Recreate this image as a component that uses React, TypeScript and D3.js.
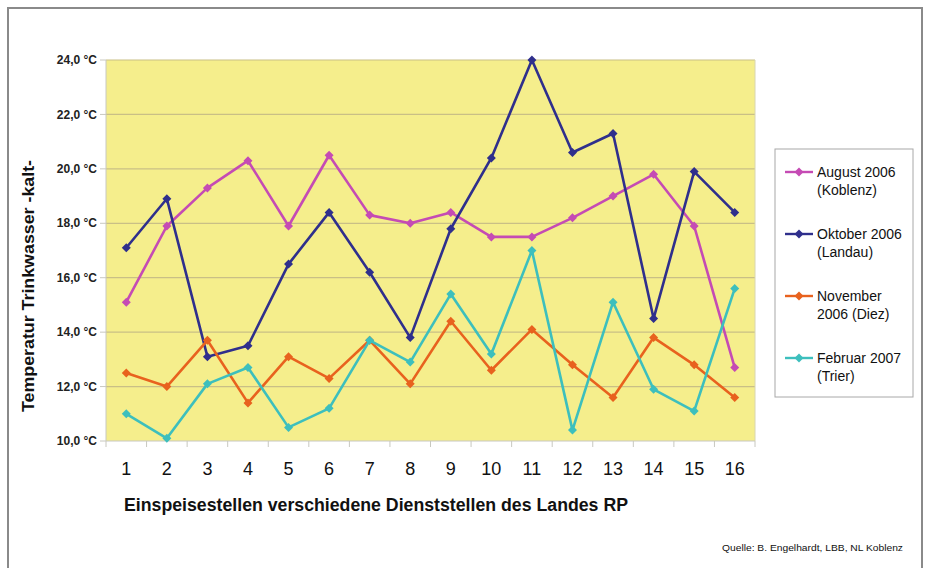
import React from 'react';
import * as d3 from 'd3';

const width = 925;
const height = 568;
const margin = { top: 60, right: 170, bottom: 127, left: 106 };

const stations = ['1', '2', '3', '4', '5', '6', '7', '8', '9', '10', '11', '12', '13', '14', '15', '16'];
const august2006 = [15.1, 17.9, 19.3, 20.3, 17.9, 20.5, 18.3, 18.0, 18.4, 17.5, 17.5, 18.2, 19.0, 19.8, 17.9, 12.7];
const oktober2006 = [17.1, 18.9, 13.1, 13.5, 16.5, 18.4, 16.2, 13.8, 17.8, 20.4, 24.0, 20.6, 21.3, 14.5, 19.9, 18.4];
const november2006 = [12.5, 12.0, 13.7, 11.4, 13.1, 12.3, 13.7, 12.1, 14.4, 12.6, 14.1, 12.8, 11.6, 13.8, 12.8, 11.6];
const februar2007 = [11.0, 10.1, 12.1, 12.7, 10.5, 11.2, 13.7, 12.9, 15.4, 13.2, 17.0, 10.4, 15.1, 11.9, 11.1, 15.6];
const yTicks = [10, 12, 14, 16, 18, 20, 22, 24];

const series = [
    { name: ['August 2006', '(Koblenz)'], values: august2006, color: '#c54bb4' },
    { name: ['Oktober 2006', '(Landau)'], values: oktober2006, color: '#2f2f8c' },
    { name: ['November', '2006 (Diez)'], values: november2006, color: '#e8621e' },
    { name: ['Februar 2007', '(Trier)'], values: februar2007, color: '#3dbfbd' },
];

const font = 'Liberation Sans, Arial, sans-serif';

const Diamond = ({ x, y, color }) => (
    <path d={`M${x},${y - 4.5}L${x + 4.5},${y}L${x},${y + 4.5}L${x - 4.5},${y}Z`} fill={color} />
);

const App = () => {
    const innerWidth = width - margin.left - margin.right;
    const innerHeight = height - margin.top - margin.bottom;

    const xScale = d3.scaleBand().domain(stations).range([0, innerWidth]);
    const yScale = d3.scaleLinear().domain([10, 24]).range([innerHeight, 0]);
    const cx = (s) => xScale(s) + xScale.bandwidth() / 2;

    const line = d3.line()
        .x((d, i) => cx(stations[i]))
        .y((d) => yScale(d));

    return (
        <svg width={width} height={height} style={{ position: 'absolute', left: 0, top: 0, fontFamily: font }}>
            <rect x={0} y={0} width={width} height={height} fill="#fff" />
            {/* outer frame */}
            <path d={`M8,${height}V8H922V${height}`} fill="none" stroke="#8a8a8a" strokeWidth={2} />

            <g transform={`translate(${margin.left},${margin.top})`}>
                <rect x={0} y={0} width={innerWidth} height={innerHeight} fill="#f5ee8c" />
                {yTicks.slice(1).map(t => (
                    <line key={t} x1={0} x2={innerWidth} y1={yScale(t)} y2={yScale(t)} stroke="#c9bf86" strokeWidth={1.2} />
                ))}
                <line x1={0} x2={0} y1={0} y2={innerHeight} stroke="#c8c8c0" />
                <line x1={innerWidth} x2={innerWidth} y1={0} y2={innerHeight} stroke="#d8d6b0" />
                <line x1={0} x2={innerWidth} y1={innerHeight} y2={innerHeight} stroke="#c8c8c0" />
                {yTicks.map(t => (
                    <g key={t} transform={`translate(0,${yScale(t)})`}>
                        <line x1={-6} x2={0} stroke="#c8c8c0" />
                        <text x={-9} dy=".35em" textAnchor="end" fontSize={12} fontWeight="bold" fill="#222">
                            {d3.format('.1f')(t).replace('.', ',')} °C
                        </text>
                    </g>
                ))}
                {stations.map(s => (
                    <line key={s} x1={xScale(s)} x2={xScale(s)} y1={innerHeight} y2={innerHeight + 6} stroke="#c8c8c0" />
                ))}
                <line x1={innerWidth} x2={innerWidth} y1={innerHeight} y2={innerHeight + 6} stroke="#c8c8c0" />
                {stations.map(s => (
                    <text key={s} x={cx(s)} y={innerHeight + 34} textAnchor="middle" fontSize={18} fill="#111">{s}</text>
                ))}

                {series.map(sr => (
                    <g key={sr.name[0]}>
                        <path d={line(sr.values)} fill="none" stroke={sr.color} strokeWidth={2.6} strokeLinejoin="round" />
                        {sr.values.map((v, i) => (
                            <Diamond key={i} x={cx(stations[i])} y={yScale(v)} color={sr.color} />
                        ))}
                    </g>
                ))}
            </g>

            <text transform={`translate(34,286) rotate(-90)`} textAnchor="middle" fontSize={17} fontWeight="bold" fill="#111"
                textLength={252} lengthAdjust="spacingAndGlyphs">
                Temperatur Trinkwasser -kalt-
            </text>
            <text x={124} y={511} fontSize={18} fontWeight="bold" fill="#111" textLength={504} lengthAdjust="spacingAndGlyphs">
                Einspeisestellen verschiedene Dienststellen des Landes RP
            </text>
            <text x={722} y={551} fontSize={9} fill="#111" textLength={181} lengthAdjust="spacingAndGlyphs">
                Quelle: B. Engelhardt, LBB, NL Koblenz
            </text>

            {/* legend */}
            <rect x={775} y={149} width={138} height={248} fill="#fff" stroke="#a8a8a8" strokeWidth={1} />
            {series.map((sr, i) => {
                const y = 172 + i * 62;
                return (
                    <g key={sr.name[0]}>
                        <line x1={785} x2={813} y1={y} y2={y} stroke={sr.color} strokeWidth={2.4} />
                        <Diamond x={799} y={y} color={sr.color} />
                        <text x={817} y={y} dy=".35em" fontSize={14} fill="#111">{sr.name[0]}</text>
                        <text x={817} y={y + 18} dy=".35em" fontSize={14} fill="#111">{sr.name[1]}</text>
                    </g>
                );
            })}
        </svg>
    );
};

export default App;
